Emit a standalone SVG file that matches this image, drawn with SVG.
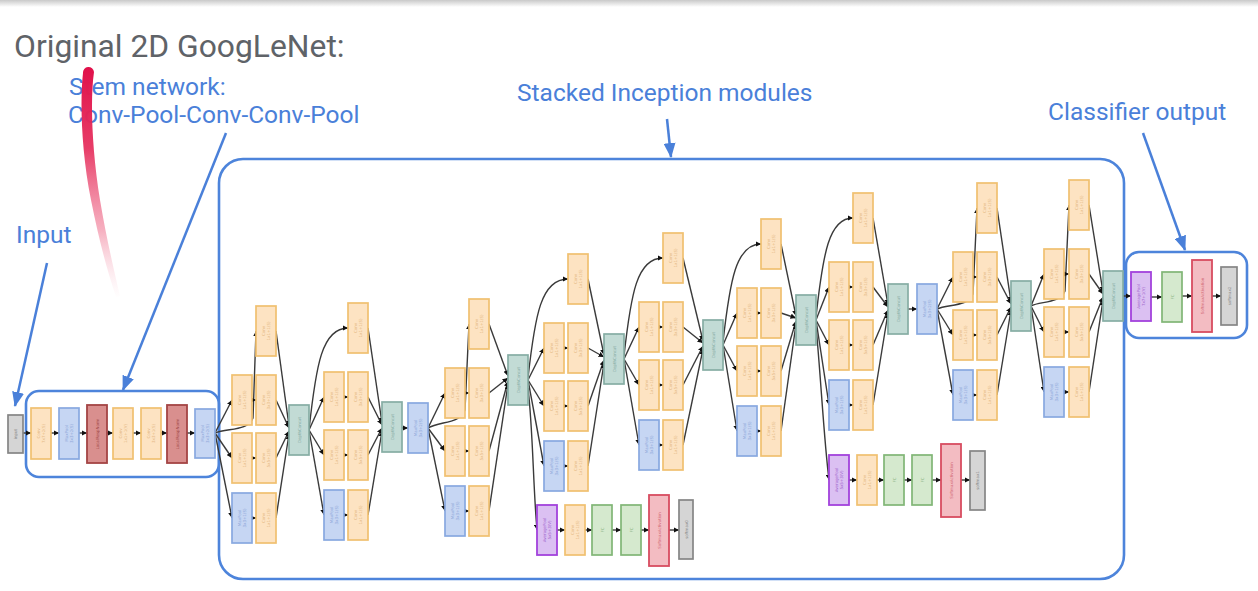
<svg xmlns="http://www.w3.org/2000/svg" xmlns:xlink="http://www.w3.org/1999/xlink" width="1258" height="591" viewBox="0 0 1258 591">
<style>
.conv{fill:#fde3c2;stroke:#f0c070;stroke-width:1.7}
.pool{fill:#c6d6f3;stroke:#88a8e0;stroke-width:1.7}
.lrn{fill:#d98f8e;stroke:#a34444;stroke-width:1.8}
.cat{fill:#c2dbd5;stroke:#86ada4;stroke-width:1.7}
.fc{fill:#d5e9ce;stroke:#80b676;stroke-width:1.7}
.avg{fill:#dbc0f2;stroke:#a242dc;stroke-width:1.8}
.sm{fill:#f3bcc2;stroke:#d84c60;stroke-width:1.8}
.out{fill:#d5d5d5;stroke:#858585;stroke-width:1.7}
.tl{font-family:"DejaVu Sans",sans-serif;font-size:4px;text-anchor:middle;opacity:0.75}
.tc{fill:#d9a86c}.tp{fill:#7893cf}.tr{fill:#8a2c2c}.tg{fill:#6f9890}.tf{fill:#75a468}.tv{fill:#8a3fc0}.ts{fill:#c84a5a}.tx{fill:#6a6a6a}
.e{fill:none;stroke:#3a3a3a;stroke-width:1.4;marker-end:url(#ah)}
.call{fill:none;stroke:#4a80d9;stroke-width:2.5;marker-end:url(#bh)}
.frame{fill:none;stroke:#4d84db;stroke-width:2.6}
.lab{font-family:Roboto,"Liberation Sans",sans-serif;font-size:24.5px;fill:#4a80d9}
.title{font-family:Roboto,"Liberation Sans",sans-serif;font-size:31.8px;fill:#5f6368}
</style>
<defs>
<marker id="ah" markerUnits="userSpaceOnUse" markerWidth="5.5" markerHeight="5.5" refX="5.5" refY="2.75" orient="auto"><path d="M0,0 L5.5,2.75 L0,5.5 z" fill="#111"/></marker>
<marker id="bh" markerUnits="userSpaceOnUse" markerWidth="15" markerHeight="12" refX="14" refY="6" orient="auto"><path d="M0,0 L15,6 L0,12 z" fill="#4a80d9"/></marker>
<linearGradient id="topband" x1="0" y1="0" x2="0" y2="1"><stop offset="0" stop-color="#c9c9c9"/><stop offset="1" stop-color="#ffffff"/></linearGradient>
<linearGradient id="pen" gradientUnits="userSpaceOnUse" x1="0" y1="66" x2="0" y2="300"><stop offset="0" stop-color="#e0104a"/><stop offset="0.35" stop-color="#e6325f" stop-opacity="0.95"/><stop offset="0.7" stop-color="#f07a95" stop-opacity="0.6"/><stop offset="1" stop-color="#f8c8d4" stop-opacity="0"/></linearGradient>
<g id="t_c11"><rect class="conv" width="20" height="50"/><text class="tl tc" transform="translate(10 25) rotate(-90)"><tspan x="0" y="-1.5">Conv</tspan><tspan x="0" y="3.5">1x1+1(S)</tspan></text></g>
<g id="t_c33"><rect class="conv" width="20" height="50"/><text class="tl tc" transform="translate(10 25) rotate(-90)"><tspan x="0" y="-1.5">Conv</tspan><tspan x="0" y="3.5">3x3+1(S)</tspan></text></g>
<g id="t_c55"><rect class="conv" width="20" height="50"/><text class="tl tc" transform="translate(10 25) rotate(-90)"><tspan x="0" y="-1.5">Conv</tspan><tspan x="0" y="3.5">5x5+1(S)</tspan></text></g>
<g id="t_p31"><rect class="pool" width="20" height="50"/><text class="tl tp" transform="translate(10 25) rotate(-90)"><tspan x="0" y="-1.5">MaxPool</tspan><tspan x="0" y="3.5">3x3+1(S)</tspan></text></g>
<g id="t_cat"><rect class="cat" width="20" height="50"/><text class="tl tg" transform="translate(10 25) rotate(-90)" y="1.5">DepthConcat</text></g>
<g id="t_fc"><rect class="fc" width="20" height="50"/><text class="tl tf" transform="translate(10 25) rotate(-90)" y="1.5">FC</text></g>
</defs>

<rect x="0" y="0" width="1258" height="7" fill="url(#topband)"/>

<g id="labels">
<text class="title" x="14" y="57">Original 2D GoogLeNet:</text>
<text class="lab" x="69" y="95">Stem network:</text>
<text class="lab" x="68" y="123">Conv-Pool-Conv-Conv-Pool</text>
<text class="lab" x="16" y="243">Input</text>
<text class="lab" x="517" y="101">Stacked Inception modules</text>
<text class="lab" x="1048" y="120">Classifier output</text>
</g>

<g id="frames">
<rect id="stem-frame" class="frame" x="26" y="391" width="193" height="86" rx="13"/>
<rect id="inception-frame" class="frame" x="219" y="159" width="905" height="420" rx="24"/>
<rect id="classifier-frame" class="frame" x="1126" y="252" width="121" height="86" rx="13"/>
</g>

<g id="callouts">
<path class="call" d="M47 263 L15 406"/>
<path class="call" d="M226 133 L123 390"/>
<path class="call" d="M667 119 L671 157"/>
<path class="call" d="M1143 133 L1185 250"/>
</g>

<g id="connectors">
<!-- stem -->
<path class="e" d="M23 433 L31 433"/><path class="e" d="M51 433 L59 433"/><path class="e" d="M79 433 L87 433"/><path class="e" d="M107 433 L113 433"/><path class="e" d="M133 433 L141 433"/><path class="e" d="M161 433 L167 433"/><path class="e" d="M187 433 L195 433"/>
<!-- M1 -->
<path class="e" d="M215 433 C228 428 248 431 253 418 L256 331"/>
<path class="e" d="M215 433 L232 400"/><path class="e" d="M215 433 L232 458"/><path class="e" d="M215 433 L232 518"/>
<path class="e" d="M252 400 L256 400"/><path class="e" d="M252 458 L256 458"/><path class="e" d="M252 518 L256 518"/>
<path class="e" d="M276 331 L289 426"/><path class="e" d="M276 400 L289 428"/><path class="e" d="M276 458 L289 431"/><path class="e" d="M276 518 L289 434"/>
<!-- M2 -->
<path class="e" d="M309 430 C316 365 322 328 348 328"/>
<path class="e" d="M309 430 L324 397"/><path class="e" d="M309 430 L324 455"/><path class="e" d="M309 430 L324 515"/>
<path class="e" d="M344 397 L348 397"/><path class="e" d="M344 455 L348 455"/><path class="e" d="M344 515 L348 515"/>
<path class="e" d="M368 328 L382 423"/><path class="e" d="M368 397 L382 425"/><path class="e" d="M368 455 L382 428"/><path class="e" d="M368 515 L382 431"/>
<path class="e" d="M402 428 L408 428"/>
<!-- M3 -->
<path class="e" d="M428 428 C440 421 460 424 465 410 L469 324"/>
<path class="e" d="M428 428 L445 393"/><path class="e" d="M428 428 L445 451"/><path class="e" d="M428 428 L445 511"/>
<path class="e" d="M465 393 L469 393"/><path class="e" d="M465 451 L469 451"/><path class="e" d="M465 511 L469 511"/>
<path class="e" d="M489 324 L508 376"/><path class="e" d="M489 393 L508 378"/><path class="e" d="M489 451 L508 381"/><path class="e" d="M489 511 L508 384"/>
<!-- M4 -->
<path class="e" d="M528 378 C535 315 541 279 568 279"/>
<path class="e" d="M528 380 L544 348"/><path class="e" d="M528 380 L544 406"/><path class="e" d="M528 380 L544 466"/>
<path class="e" d="M564 348 L568 348"/><path class="e" d="M564 406 L568 406"/><path class="e" d="M564 466 L568 466"/>
<path class="e" d="M588 279 L604 355"/><path class="e" d="M588 348 L604 357"/><path class="e" d="M588 406 L604 360"/><path class="e" d="M588 466 L604 363"/>
<!-- aux1 -->
<path class="e" d="M528 388 C533 430 533 485 537 530"/>
<path class="e" d="M557 530 L565 530"/><path class="e" d="M585 530 L592 530"/><path class="e" d="M612 530 L621 530"/><path class="e" d="M641 530 L649 530"/><path class="e" d="M669 530 L679 530"/>
<!-- M5 -->
<path class="e" d="M624 356 C631 293 637 258 663 258"/>
<path class="e" d="M624 359 L639 327"/><path class="e" d="M624 359 L639 385"/><path class="e" d="M624 359 L639 445"/>
<path class="e" d="M659 327 L663 327"/><path class="e" d="M659 385 L663 385"/><path class="e" d="M659 445 L663 445"/>
<path class="e" d="M683 258 L703 341"/><path class="e" d="M683 327 L703 343"/><path class="e" d="M683 385 L703 346"/><path class="e" d="M683 445 L703 349"/>
<!-- M6 -->
<path class="e" d="M723 342 C730 280 736 244 761 244"/>
<path class="e" d="M723 345 L737 313"/><path class="e" d="M723 345 L737 371"/><path class="e" d="M723 345 L737 431"/>
<path class="e" d="M757 313 L761 313"/><path class="e" d="M757 371 L761 371"/><path class="e" d="M757 431 L761 431"/>
<path class="e" d="M781 244 L796 316"/><path class="e" d="M781 313 L796 318"/><path class="e" d="M781 371 L796 321"/><path class="e" d="M781 431 L796 324"/>
<!-- M7 -->
<path class="e" d="M816 317 C823 253 829 218 853 218"/>
<path class="e" d="M816 320 L829 287"/><path class="e" d="M816 320 L829 345"/><path class="e" d="M816 320 L829 405"/>
<path class="e" d="M849 287 L853 287"/><path class="e" d="M849 345 L853 345"/><path class="e" d="M849 405 L853 405"/>
<path class="e" d="M873 218 L888 305"/><path class="e" d="M873 287 L888 307"/><path class="e" d="M873 345 L888 310"/><path class="e" d="M873 405 L888 313"/>
<path class="e" d="M908 309 L917 309"/>
<!-- aux2 -->
<path class="e" d="M816 326 C821 380 824 440 829 480"/>
<path class="e" d="M849 480 L857 480"/><path class="e" d="M877 480 L884 480"/><path class="e" d="M904 480 L912 480"/><path class="e" d="M932 480 L941 480"/><path class="e" d="M961 480 L970 480"/>
<!-- M8 -->
<path class="e" d="M937 309 C948 304 968 307 973 294 L977 208"/>
<path class="e" d="M937 309 L953 277"/><path class="e" d="M937 309 L953 335"/><path class="e" d="M937 309 L953 395"/>
<path class="e" d="M973 277 L977 277"/><path class="e" d="M973 335 L977 335"/><path class="e" d="M973 395 L977 395"/>
<path class="e" d="M997 208 L1011 302"/><path class="e" d="M997 277 L1011 304"/><path class="e" d="M997 335 L1011 307"/><path class="e" d="M997 395 L1011 310"/>
<!-- M9 -->
<path class="e" d="M1031 306 C1040 301 1060 304 1065 291 L1069 205"/>
<path class="e" d="M1031 306 L1044 274"/><path class="e" d="M1031 306 L1044 332"/><path class="e" d="M1031 306 L1044 392"/>
<path class="e" d="M1064 274 L1069 274"/><path class="e" d="M1064 332 L1069 332"/><path class="e" d="M1064 392 L1069 392"/>
<path class="e" d="M1089 205 L1103 292"/><path class="e" d="M1089 274 L1103 294"/><path class="e" d="M1089 332 L1103 297"/><path class="e" d="M1089 392 L1103 300"/>
<!-- classifier -->
<path class="e" d="M1123 296 L1131 296"/><path class="e" d="M1151 297 L1162 297"/><path class="e" d="M1182 296 L1192 296"/><path class="e" d="M1212 296 L1221 296"/>
</g>

<g id="nodes">
<!-- stem -->
<g id="input"><rect class="out" x="8" y="415" width="15" height="38"/><text class="tl tx" transform="translate(15.5 434) rotate(-90)" y="1.5">input</text></g>
<g id="stem-conv1"><rect class="conv" x="31" y="408" width="20" height="51"/><text class="tl tc" transform="translate(41 433.5) rotate(-90)"><tspan x="0" y="-1.5">Conv</tspan><tspan x="0" y="3.5">7x7+2(S)</tspan></text></g>
<g id="stem-pool1"><rect class="pool" x="59" y="408" width="20" height="51"/><text class="tl tp" transform="translate(69 433.5) rotate(-90)"><tspan x="0" y="-1.5">MaxPool</tspan><tspan x="0" y="3.5">3x3+2(S)</tspan></text></g>
<g id="stem-lrn1"><rect class="lrn" x="87" y="405" width="20" height="58"/><text class="tl tr" transform="translate(97 434) rotate(-90)" y="1.5">LocalRespNorm</text></g>
<g id="stem-conv2"><rect class="conv" x="113" y="408" width="20" height="51"/><text class="tl tc" transform="translate(123 433.5) rotate(-90)"><tspan x="0" y="-1.5">Conv</tspan><tspan x="0" y="3.5">1x1+1(V)</tspan></text></g>
<g id="stem-conv3"><rect class="conv" x="141" y="408" width="20" height="51"/><text class="tl tc" transform="translate(151 433.5) rotate(-90)"><tspan x="0" y="-1.5">Conv</tspan><tspan x="0" y="3.5">3x3+1(S)</tspan></text></g>
<g id="stem-lrn2"><rect class="lrn" x="167" y="405" width="20" height="58"/><text class="tl tr" transform="translate(177 434) rotate(-90)" y="1.5">LocalRespNorm</text></g>
<g id="stem-pool2"><rect class="pool" x="195" y="409" width="20" height="49"/><text class="tl tp" transform="translate(205 433.5) rotate(-90)"><tspan x="0" y="-1.5">MaxPool</tspan><tspan x="0" y="3.5">3x3+2(S)</tspan></text></g>

<!-- M1 -->
<g id="m1-b0"><use xlink:href="#t_c11" x="256" y="306"/></g>
<g id="m1-b1a"><use xlink:href="#t_c11" x="232" y="375"/></g><g id="m1-b1b"><use xlink:href="#t_c33" x="256" y="375"/></g>
<g id="m1-b2a"><use xlink:href="#t_c11" x="232" y="433"/></g><g id="m1-b2b"><use xlink:href="#t_c55" x="256" y="433"/></g>
<g id="m1-b3a"><use xlink:href="#t_p31" x="232" y="493"/></g><g id="m1-b3b"><use xlink:href="#t_c11" x="256" y="493"/></g>
<g id="m1-cat"><use xlink:href="#t_cat" x="289" y="405"/></g>
<!-- M2 -->
<g id="m2-b0"><use xlink:href="#t_c11" x="348" y="303"/></g>
<g id="m2-b1a"><use xlink:href="#t_c11" x="324" y="372"/></g><g id="m2-b1b"><use xlink:href="#t_c33" x="348" y="372"/></g>
<g id="m2-b2a"><use xlink:href="#t_c11" x="324" y="430"/></g><g id="m2-b2b"><use xlink:href="#t_c55" x="348" y="430"/></g>
<g id="m2-b3a"><use xlink:href="#t_p31" x="324" y="490"/></g><g id="m2-b3b"><use xlink:href="#t_c11" x="348" y="490"/></g>
<g id="m2-cat"><use xlink:href="#t_cat" x="382" y="402"/></g>
<g id="pool3"><rect class="pool" x="408" y="403" width="20" height="50"/><text class="tl tp" transform="translate(418 428) rotate(-90)"><tspan x="0" y="-1.5">MaxPool</tspan><tspan x="0" y="3.5">3x3+2(S)</tspan></text></g>
<!-- M3 -->
<g id="m3-b0"><use xlink:href="#t_c11" x="469" y="299"/></g>
<g id="m3-b1a"><use xlink:href="#t_c11" x="445" y="368"/></g><g id="m3-b1b"><use xlink:href="#t_c33" x="469" y="368"/></g>
<g id="m3-b2a"><use xlink:href="#t_c11" x="445" y="426"/></g><g id="m3-b2b"><use xlink:href="#t_c55" x="469" y="426"/></g>
<g id="m3-b3a"><use xlink:href="#t_p31" x="445" y="486"/></g><g id="m3-b3b"><use xlink:href="#t_c11" x="469" y="486"/></g>
<g id="m3-cat"><use xlink:href="#t_cat" x="508" y="355"/></g>
<!-- M4 -->
<g id="m4-b0"><use xlink:href="#t_c11" x="568" y="254"/></g>
<g id="m4-b1a"><use xlink:href="#t_c11" x="544" y="323"/></g><g id="m4-b1b"><use xlink:href="#t_c33" x="568" y="323"/></g>
<g id="m4-b2a"><use xlink:href="#t_c11" x="544" y="381"/></g><g id="m4-b2b"><use xlink:href="#t_c55" x="568" y="381"/></g>
<g id="m4-b3a"><use xlink:href="#t_p31" x="544" y="441"/></g><g id="m4-b3b"><use xlink:href="#t_c11" x="568" y="441"/></g>
<g id="m4-cat"><use xlink:href="#t_cat" x="604" y="334"/></g>
<!-- aux1 -->
<g id="aux1-avg"><rect class="avg" x="537" y="505" width="20" height="50"/><text class="tl tv" transform="translate(547 530) rotate(-90)"><tspan x="0" y="-1.5">AveragePool</tspan><tspan x="0" y="3.5">5x5+3(V)</tspan></text></g>
<g id="aux1-conv"><use xlink:href="#t_c11" x="565" y="505"/></g>
<g id="aux1-fc1"><use xlink:href="#t_fc" x="592" y="505"/></g>
<g id="aux1-fc2"><use xlink:href="#t_fc" x="621" y="505"/></g>
<g id="aux1-sm"><rect class="sm" x="649" y="495" width="20" height="71"/><text class="tl ts" transform="translate(659 530.5) rotate(-90)" y="1.5">SoftmaxActivation</text></g>
<g id="aux1-out"><rect class="out" x="679" y="500" width="14" height="59"/><text class="tl tx" transform="translate(686 529.5) rotate(-90)" y="1.5">softmax0</text></g>
<!-- M5 -->
<g id="m5-b0"><use xlink:href="#t_c11" x="663" y="233"/></g>
<g id="m5-b1a"><use xlink:href="#t_c11" x="639" y="302"/></g><g id="m5-b1b"><use xlink:href="#t_c33" x="663" y="302"/></g>
<g id="m5-b2a"><use xlink:href="#t_c11" x="639" y="360"/></g><g id="m5-b2b"><use xlink:href="#t_c55" x="663" y="360"/></g>
<g id="m5-b3a"><use xlink:href="#t_p31" x="639" y="420"/></g><g id="m5-b3b"><use xlink:href="#t_c11" x="663" y="420"/></g>
<g id="m5-cat"><use xlink:href="#t_cat" x="703" y="320"/></g>
<!-- M6 -->
<g id="m6-b0"><use xlink:href="#t_c11" x="761" y="219"/></g>
<g id="m6-b1a"><use xlink:href="#t_c11" x="737" y="288"/></g><g id="m6-b1b"><use xlink:href="#t_c33" x="761" y="288"/></g>
<g id="m6-b2a"><use xlink:href="#t_c11" x="737" y="346"/></g><g id="m6-b2b"><use xlink:href="#t_c55" x="761" y="346"/></g>
<g id="m6-b3a"><use xlink:href="#t_p31" x="737" y="406"/></g><g id="m6-b3b"><use xlink:href="#t_c11" x="761" y="406"/></g>
<g id="m6-cat"><use xlink:href="#t_cat" x="796" y="295"/></g>
<!-- M7 -->
<g id="m7-b0"><use xlink:href="#t_c11" x="853" y="193"/></g>
<g id="m7-b1a"><use xlink:href="#t_c11" x="829" y="262"/></g><g id="m7-b1b"><use xlink:href="#t_c33" x="853" y="262"/></g>
<g id="m7-b2a"><use xlink:href="#t_c11" x="829" y="320"/></g><g id="m7-b2b"><use xlink:href="#t_c55" x="853" y="320"/></g>
<g id="m7-b3a"><use xlink:href="#t_p31" x="829" y="380"/></g><g id="m7-b3b"><use xlink:href="#t_c11" x="853" y="380"/></g>
<g id="m7-cat"><use xlink:href="#t_cat" x="888" y="284"/></g>
<g id="pool4"><rect class="pool" x="917" y="284" width="20" height="50"/><text class="tl tp" transform="translate(927 309) rotate(-90)"><tspan x="0" y="-1.5">MaxPool</tspan><tspan x="0" y="3.5">3x3+2(S)</tspan></text></g>
<!-- aux2 -->
<g id="aux2-avg"><rect class="avg" x="829" y="455" width="20" height="50"/><text class="tl tv" transform="translate(839 480) rotate(-90)"><tspan x="0" y="-1.5">AveragePool</tspan><tspan x="0" y="3.5">5x5+3(V)</tspan></text></g>
<g id="aux2-conv"><use xlink:href="#t_c11" x="857" y="455"/></g>
<g id="aux2-fc1"><use xlink:href="#t_fc" x="884" y="455"/></g>
<g id="aux2-fc2"><use xlink:href="#t_fc" x="912" y="455"/></g>
<g id="aux2-sm"><rect class="sm" x="941" y="444" width="20" height="73"/><text class="tl ts" transform="translate(951 480.5) rotate(-90)" y="1.5">SoftmaxActivation</text></g>
<g id="aux2-out"><rect class="out" x="970" y="451" width="15" height="59"/><text class="tl tx" transform="translate(977.5 480.5) rotate(-90)" y="1.5">softmax1</text></g>
<!-- M8 -->
<g id="m8-b0"><use xlink:href="#t_c11" x="977" y="183"/></g>
<g id="m8-b1a"><use xlink:href="#t_c11" x="953" y="252"/></g><g id="m8-b1b"><use xlink:href="#t_c33" x="977" y="252"/></g>
<g id="m8-b2a"><use xlink:href="#t_c11" x="953" y="310"/></g><g id="m8-b2b"><use xlink:href="#t_c55" x="977" y="310"/></g>
<g id="m8-b3a"><use xlink:href="#t_p31" x="953" y="370"/></g><g id="m8-b3b"><use xlink:href="#t_c11" x="977" y="370"/></g>
<g id="m8-cat"><use xlink:href="#t_cat" x="1011" y="281"/></g>
<!-- M9 -->
<g id="m9-b0"><use xlink:href="#t_c11" x="1069" y="180"/></g>
<g id="m9-b1a"><use xlink:href="#t_c11" x="1044" y="249"/></g><g id="m9-b1b"><use xlink:href="#t_c33" x="1069" y="249"/></g>
<g id="m9-b2a"><use xlink:href="#t_c11" x="1044" y="307"/></g><g id="m9-b2b"><use xlink:href="#t_c55" x="1069" y="307"/></g>
<g id="m9-b3a"><use xlink:href="#t_p31" x="1044" y="367"/></g><g id="m9-b3b"><use xlink:href="#t_c11" x="1069" y="367"/></g>
<g id="m9-cat"><use xlink:href="#t_cat" x="1103" y="271"/></g>
<!-- classifier -->
<g id="cls-avg"><rect class="avg" x="1131" y="272" width="20" height="49"/><text class="tl tv" transform="translate(1141 296.5) rotate(-90)"><tspan x="0" y="-1.5">AveragePool</tspan><tspan x="0" y="3.5">7x7+1(V)</tspan></text></g>
<g id="cls-fc"><use xlink:href="#t_fc" x="1162" y="272"/></g>
<g id="cls-sm"><rect class="sm" x="1192" y="260" width="20" height="72"/><text class="tl ts" transform="translate(1202 296) rotate(-90)" y="1.5">SoftmaxActivation</text></g>
<g id="cls-out"><rect class="out" x="1221" y="267" width="16" height="58"/><text class="tl tx" transform="translate(1229 296) rotate(-90)" y="1.5">softmax2</text></g>
</g>

<path id="pen-mark" d="M83 73 C80 100 81 150 91 200 C99 240 107 270 116 297 L120 296 C113 266 106 236 100 200 C92 150 90 100 94 72 A5.5 5.5 0 0 0 83 73 Z" fill="url(#pen)"/>
</svg>
